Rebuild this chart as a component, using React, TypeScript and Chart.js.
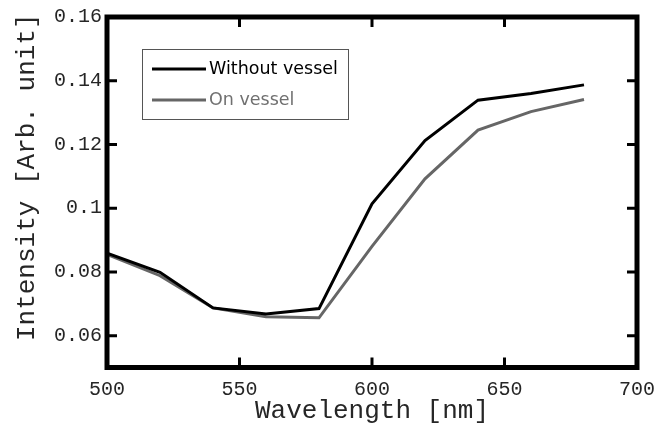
import React, { useEffect, useRef } from 'react';
import { Chart, registerables } from 'chart.js';

Chart.register(...registerables);

const wavelengths = [500, 520, 540, 560, 580, 600, 620, 640, 660, 680];
const withoutVessel = [0.0859, 0.0799, 0.0687, 0.0668, 0.0685, 0.1014, 0.1212, 0.1339, 0.136, 0.1387];
const onVessel = [0.0855, 0.0788, 0.0687, 0.0659, 0.0656, 0.088, 0.1092, 0.1245, 0.1303, 0.1341];
const xTicks = [500, 550, 600, 650, 700];
const xTickLabels = ['500', '550', '600', '650', '700'];
const yTicks = [0.06, 0.08, 0.1, 0.12, 0.14, 0.16];
const yTickLabels = ['0.06', '0.08', '0.1', '0.12', '0.14', '0.16'];
const seriesLabels = ['Without vessel', 'On vessel'];
const seriesColors = ['#000000', '#666666'];
const legendTextColors = ['#000000', '#707070'];
const xTitle = 'Wavelength [nm]';
const yTitle = 'Intensity [Arb. unit]';

const MONO = '"Liberation Mono", "Courier New", monospace';
const SANS = '"DejaVu Sans", Verdana, sans-serif';
const TEXT = '#262626';

const framePlugin = {
  id: 'frame',
  afterDatasetsDraw(chart: any) {
    const { ctx, chartArea, scales } = chart;
    const { left, right, top, bottom } = chartArea;
    ctx.save();
    ctx.strokeStyle = '#000';
    ctx.lineWidth = 3;
    ctx.lineCap = 'butt';
    for (const v of xTicks) {
      const px = scales.x.getPixelForValue(v);
      ctx.beginPath();
      ctx.moveTo(px, bottom);
      ctx.lineTo(px, bottom - 10);
      ctx.moveTo(px, top);
      ctx.lineTo(px, top + 10);
      ctx.stroke();
    }
    for (const v of yTicks) {
      const py = scales.y.getPixelForValue(v);
      ctx.beginPath();
      ctx.moveTo(left, py);
      ctx.lineTo(left + 10, py);
      ctx.moveTo(right, py);
      ctx.lineTo(right - 10, py);
      ctx.stroke();
    }
    ctx.lineWidth = 5;
    ctx.lineJoin = 'miter';
    ctx.strokeRect(left, top, right - left, bottom - top);
    ctx.restore();
  },
  afterDraw(chart: any) {
    const { ctx, chartArea } = chart;
    const { left, top, bottom } = chartArea;
    ctx.save();
    // y-axis title
    ctx.font = `26px ${MONO}`;
    ctx.fillStyle = TEXT;
    ctx.textAlign = 'center';
    ctx.textBaseline = 'middle';
    ctx.translate(27, (top + bottom) / 2 - 15);
    ctx.rotate(-Math.PI / 2);
    ctx.fillText(yTitle, 0, 0);
    ctx.restore();

    // legend
    ctx.save();
    const bx = left + 35;
    const by = top + 32;
    const bw = 206;
    const bh = 70;
    ctx.fillStyle = '#fff';
    ctx.fillRect(bx, by, bw, bh);
    ctx.strokeStyle = '#555';
    ctx.lineWidth = 1;
    ctx.strokeRect(bx + 0.5, by + 0.5, bw, bh);
    const rows = [by + 20, by + 51];
    ctx.font = `17.5px ${SANS}`;
    ctx.textAlign = 'left';
    ctx.textBaseline = 'middle';
    seriesLabels.forEach((label, i) => {
      ctx.strokeStyle = seriesColors[i];
      ctx.lineWidth = 3;
      ctx.beginPath();
      ctx.moveTo(bx + 10, rows[i]);
      ctx.lineTo(bx + 64, rows[i]);
      ctx.stroke();
      ctx.fillStyle = legendTextColors[i];
      ctx.fillText(label, bx + 67, rows[i]);
    });
    ctx.restore();
  },
};

export default function App() {
  const ref = useRef<HTMLCanvasElement | null>(null);
  useEffect(() => {
    if (!ref.current) return;
    const chart = new Chart(ref.current, {
      type: 'line',
      data: {
        labels: wavelengths,
        datasets: [
          {
            label: seriesLabels[0],
            data: wavelengths.map((x, i) => ({ x, y: withoutVessel[i] })),
            borderColor: seriesColors[0],
            borderWidth: 3,
            pointRadius: 0,
            tension: 0,
            fill: false,
          },
          {
            label: seriesLabels[1],
            data: wavelengths.map((x, i) => ({ x, y: onVessel[i] })),
            borderColor: seriesColors[1],
            borderWidth: 3,
            pointRadius: 0,
            tension: 0,
            fill: false,
          },
        ],
      },
      options: {
        responsive: false,
        animation: false,
        layout: { padding: { left: 0, top: 16, right: 26, bottom: 0 } },
        plugins: {
          legend: { display: false },
          tooltip: { enabled: false },
        },
        scales: {
          x: {
            type: 'linear',
            min: 500,
            max: 700,
            grid: { display: false, drawTicks: false },
            border: { display: false },
            afterBuildTicks: (s: any) => {
              s.ticks = xTicks.map((value) => ({ value }));
            },
            afterFit: (s: any) => {
              s.height = 67.5;
            },
            ticks: {
              padding: 10,
              color: TEXT,
              font: { family: MONO, size: 20 },
              maxRotation: 0,
              callback: (_v: any, i: number) => xTickLabels[i],
            },
            title: {
              display: true,
              text: xTitle,
              color: TEXT,
              font: { family: MONO, size: 26 },
              padding: { top: 0, bottom: 8 },
            },
          },
          y: {
            type: 'linear',
            min: 0.05,
            max: 0.16,
            grid: { display: false, drawTicks: false },
            border: { display: false },
            afterBuildTicks: (s: any) => {
              s.ticks = yTicks.map((value) => ({ value }));
            },
            afterFit: (s: any) => {
              s.width = 107;
            },
            ticks: {
              padding: 5,
              color: TEXT,
              font: { family: MONO, size: 20 },
              callback: (_v: any, i: number) => yTickLabels[i],
            },
            title: { display: false },
          },
        },
      },
      plugins: [framePlugin],
    } as any);
    return () => chart.destroy();
  }, []);
  return (
    <div style={{ position: 'fixed', left: 0, top: 0, width: 665, height: 435, background: '#fff' }}>
      <canvas ref={ref} width={665} height={435} style={{ display: 'block' }} />
    </div>
  );
}
